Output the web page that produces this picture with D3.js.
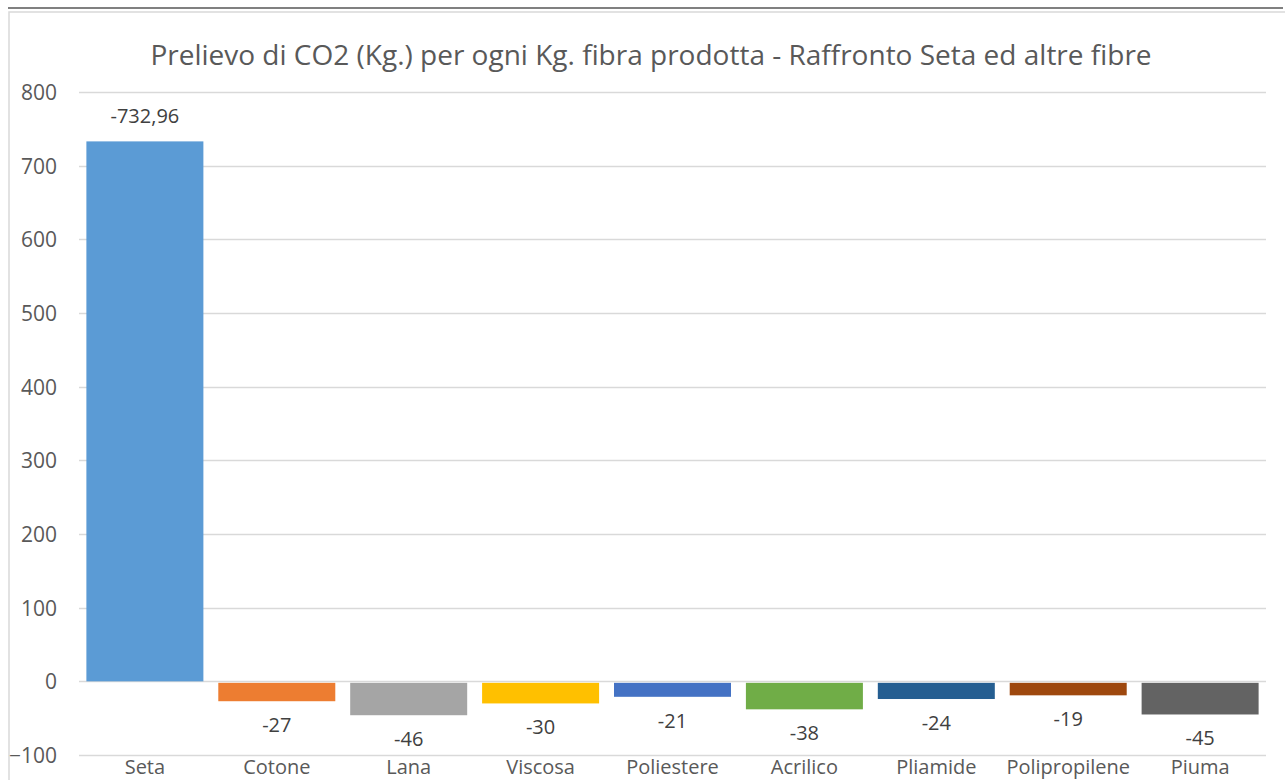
<!DOCTYPE html>
<html>
<head>
<meta charset="utf-8">
<script src="https://cdn.jsdelivr.net/npm/d3@7"></script>
<style>
  html, body { margin: 0; padding: 0; background: #fff; }
  svg { display: block; }
  text { font-family: "Open Sans", "Noto Sans", sans-serif; }
</style>
</head>
<body>
<svg id="chart" width="1285" height="780"></svg>
<script>
const title = "Prelievo di CO2 (Kg.) per ogni Kg. fibra prodotta - Raffronto Seta ed altre fibre";
const categories = ["Seta", "Cotone", "Lana", "Viscosa", "Poliestere", "Acrilico", "Pliamide", "Polipropilene", "Piuma"];
const values = [732.96, -27, -46, -30, -21, -38, -24, -19, -45];
const labels = ["-732,96", "-27", "-46", "-30", "-21", "-38", "-24", "-19", "-45"];
const colors = ["#5B9BD5", "#ED7D31", "#A5A5A5", "#FFC000", "#4472C4", "#70AD47", "#255E91", "#9E480E", "#636363"];
const yTicks = [-100, 0, 100, 200, 300, 400, 500, 600, 700, 800];

const svg = d3.select("#chart");
const plot = { left: 79, right: 1266, top: 92, bottom: 755 };

// chart frame
svg.append("line").attr("x1", 8).attr("x2", 1283).attr("y1", 8).attr("y2", 8)
  .attr("stroke", "#808080").attr("stroke-width", 2);
svg.append("rect").attr("x", 9).attr("y", 12).attr("width", 1285).attr("height", 800)
  .attr("fill", "none").attr("stroke", "#d9d9d9").attr("stroke-width", 1.5);

const x = d3.scaleBand().domain(categories).range([plot.left, plot.right]).paddingInner(0.113).paddingOuter(0.056);
const y = d3.scaleLinear().domain([-100, 800]).range([plot.bottom, plot.top]);

// gridlines
svg.append("g").selectAll("line").data(yTicks).join("line")
  .attr("x1", plot.left).attr("x2", plot.right)
  .attr("y1", d => Math.round(y(d)) + 0.5).attr("y2", d => Math.round(y(d)) + 0.5)
  .attr("stroke", "#d9d9d9").attr("stroke-width", 1.5);

// y axis labels
const yAxis = d3.axisLeft(y).tickValues(yTicks).tickSize(0).tickPadding(0);
const gy = svg.append("g").attr("transform", "translate(57,0)").call(yAxis);
gy.select(".domain").remove();
gy.selectAll("text").attr("fill", "#595959").style("font-size", "21px")
  .style("font-family", "'Open Sans', sans-serif").attr("dy", "0.35em");

// bars
svg.append("g").selectAll("rect").data(values).join("rect")
  .attr("x", (d, i) => x(categories[i]))
  .attr("width", x.bandwidth())
  .attr("y", d => d >= 0 ? y(d) : y(0) + 1.5)
  .attr("height", d => d >= 0 ? y(0) - y(d) : y(d) - y(0) - 1.5)
  .attr("fill", (d, i) => colors[i]);

// data labels
svg.append("g").selectAll("text").data(values).join("text")
  .attr("x", (d, i) => x(categories[i]) + x.bandwidth() / 2)
  .attr("y", d => d >= 0 ? y(d) - 18 : y(d) + 31)
  .attr("text-anchor", "middle")
  .attr("fill", "#404040")
  .style("font-size", "20px")
  .text((d, i) => labels[i]);

// category labels
const xAxis = d3.axisBottom(x).tickSize(0).tickPadding(0);
const gx = svg.append("g").attr("transform", "translate(0,774)").call(xAxis);
gx.select(".domain").remove();
gx.selectAll("text").attr("fill", "#595959").attr("dy", 0).attr("y", 0)
  .style("font-size", "20px").style("font-family", "'Open Sans', sans-serif");

// title
svg.append("text").attr("x", 651).attr("y", 65).attr("text-anchor", "middle")
  .attr("fill", "#595959").style("font-size", "28px").text(title);
</script>
</body>
</html>
